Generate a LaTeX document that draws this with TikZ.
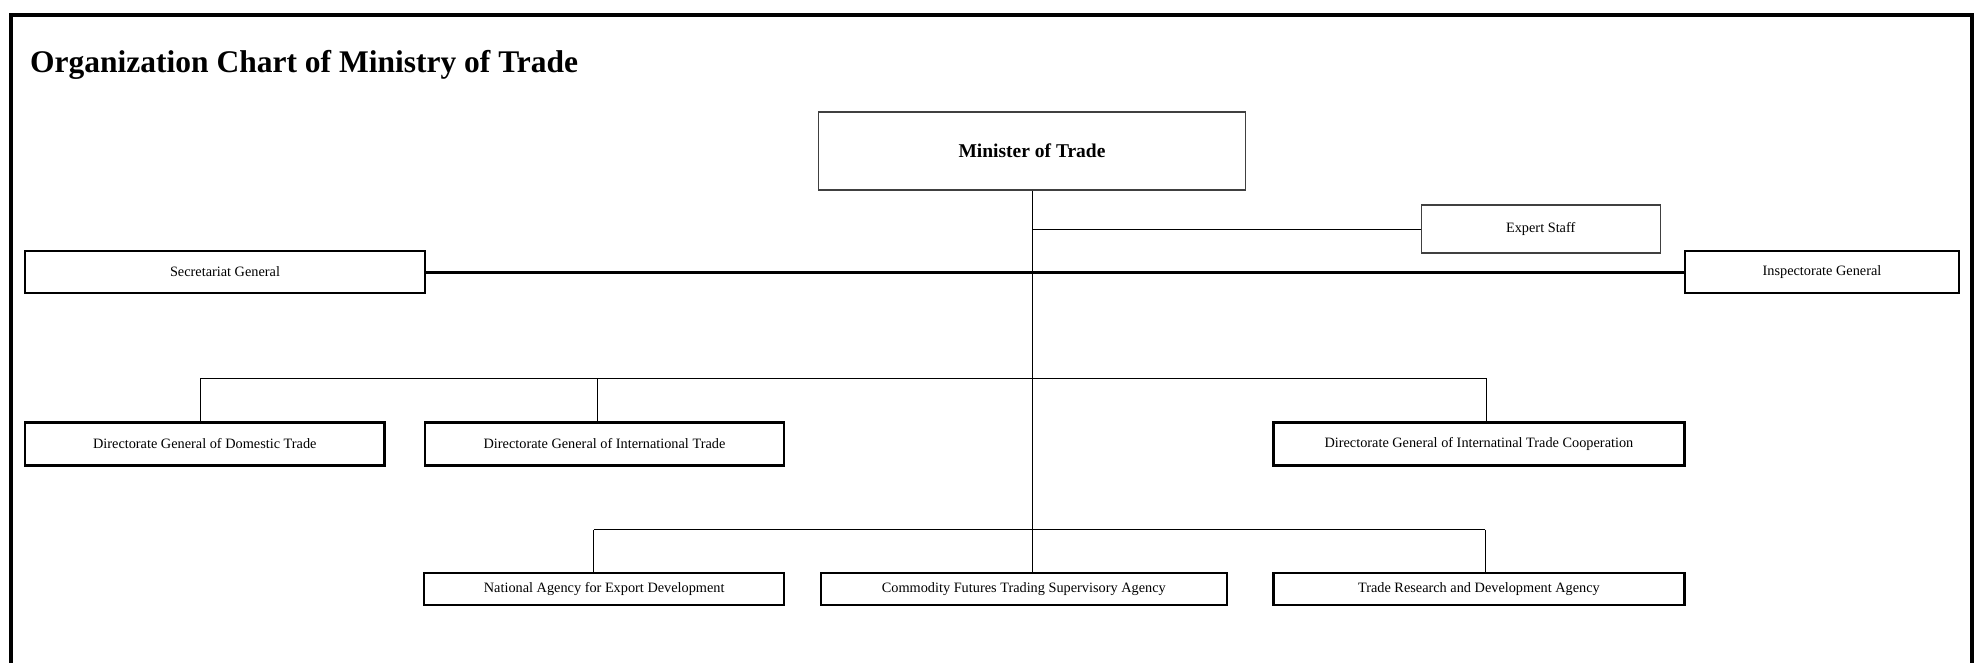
\documentclass[tikz,border=0pt]{standalone}
\usepackage{fontspec}
\setmainfont{Liberation Serif}
\begin{document}
\begin{tikzpicture}[x=1pt,y=-1pt,
  unitbox/.style={draw=black, line width=2.4pt, fill=white, inner sep=0pt,
    font=\fontsize{14.3}{17}\selectfont},
  topbox/.style={draw=black!75, line width=1.3pt, fill=white, inner sep=0pt},
  conn/.style={draw=black, line width=1pt},
  heavyconn/.style={draw=black, line width=3pt},
  frameline/.style={draw=black, line width=4pt}]
\useasboundingbox (0,0) rectangle (1977,663);
\fill[white] (0,0) rectangle (1977,663);
% outer frame (open at the bottom)
\draw[frameline] (10.5,663) -- (10.5,15) -- (1972,15) -- (1972,663);
% title
\node[anchor=base west, inner sep=0pt, font=\bfseries\fontsize{31.5}{36}\selectfont] (title) at (30,72.7) {Organization Chart of Ministry of Trade};
% nodes
\node[topbox, minimum width=427pt, minimum height=78pt, font=\bfseries\fontsize{19.5}{23}\selectfont] (min) at (1032,151) {Minister of Trade};
\node[topbox, minimum width=239pt, minimum height=48pt, font=\fontsize{14.3}{17}\selectfont] (exp) at (1540.7,229) {Expert Staff};
\node[unitbox, minimum width=400pt, minimum height=42pt] (sec) at (225,272) {Secretariat General};
\node[unitbox, minimum width=274pt, minimum height=42pt] (insp) at (1822,272) {Inspectorate General};
\node[unitbox, minimum width=359.5pt, minimum height=43pt] (dom) at (204.8,444) {Directorate General of Domestic Trade};
\node[unitbox, minimum width=359.5pt, minimum height=43pt] (intl) at (604.5,444) {Directorate General of International Trade};
\node[unitbox, minimum width=411pt, minimum height=43pt] (coop) at (1478.9,444) {Directorate General of Internatinal Trade Cooperation};
\node[unitbox, minimum width=360pt, minimum height=32pt] (nat) at (604.2,589) {National Agency for Export Development};
\node[unitbox, minimum width=406pt, minimum height=32pt] (com) at (1023.8,589) {Commodity Futures Trading Supervisory Agency};
\node[unitbox, minimum width=411pt, minimum height=32pt] (res) at (1478.9,589) {Trade Research and Development Agency};
% bus coordinates
\coordinate (dbL) at (200.5,378.2);
\coordinate (dbM) at (597.6,378.2);
\coordinate (dbR) at (1486.5,378.2);
\coordinate (abL) at (593.8,529.5);
\coordinate (abR) at (1485.2,529.5);
% connectors
\draw[conn] (min.south) -- (min.south |- com.north);
\draw[conn] (min.south |- exp.west) -- (exp.west);
\draw[heavyconn] (sec.east) -- (insp.west);
\draw[conn] (dbL) -- (dbR);
\draw[conn] (dbL) -- (dbL |- dom.north);
\draw[conn] (dbM) -- (dbM |- intl.north);
\draw[conn] (dbR) -- (dbR |- coop.north);
\draw[conn] (abL) -- (abR);
\draw[conn] (abL) -- (abL |- nat.north);
\draw[conn] (abR) -- (abR |- res.north);
\end{tikzpicture}
\end{document}
